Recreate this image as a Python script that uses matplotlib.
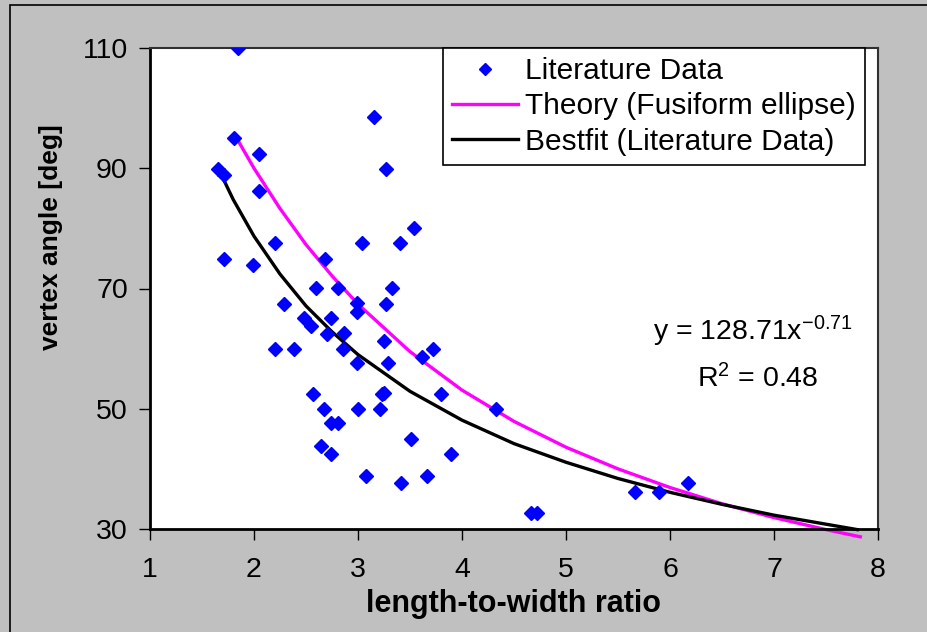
import matplotlib

matplotlib.use("Agg")
import matplotlib.pyplot as plt
from matplotlib.patches import Rectangle

plt.rcParams["font.family"] = ["Liberation Sans", "DejaVu Sans"]
plt.rcParams["mathtext.fontset"] = "custom"
plt.rcParams["mathtext.rm"] = "Liberation Sans"
plt.rcParams["mathtext.it"] = "Liberation Sans"

# Literature data (length-to-width ratio, vertex angle in deg)
lit_ratio = [1.85, 1.81, 2.05, 1.65, 1.71, 2.05, 3.15, 3.27, 3.54, 2.20,
             3.04, 3.40, 1.71, 1.99, 2.68, 2.60, 2.81, 3.33, 2.29, 2.99,
             3.27, 2.99, 2.48, 2.55, 2.74, 2.70, 2.87, 2.20, 2.38, 2.86,
             2.99, 3.25, 3.29, 3.62, 3.72, 2.57, 3.23, 3.25, 3.80, 2.67,
             3.00, 3.21, 4.33, 2.74, 2.81, 3.51, 2.64, 2.74, 3.89, 3.08,
             3.41, 3.66, 4.66, 4.72, 5.66, 5.89, 6.17]
lit_angle = [110.0, 95.0, 92.4, 89.9, 88.9, 86.2, 98.5, 89.9, 80.1, 77.6,
             77.6, 77.6, 74.9, 73.9, 74.9, 70.1, 70.1, 70.1, 67.4, 67.6,
             67.4, 66.1, 65.1, 63.8, 65.1, 62.4, 62.6, 59.9, 59.9, 59.9,
             57.6, 61.3, 57.6, 58.6, 59.9, 52.4, 52.4, 52.6, 52.4, 50.0,
             50.0, 50.0, 50.0, 47.6, 47.6, 45.0, 43.8, 42.5, 42.5, 38.8,
             37.6, 38.8, 32.7, 32.7, 36.2, 36.2, 37.6]

# Theory curve (fusiform ellipse)
theory_ratio = [1.84, 2.0, 2.25, 2.5, 2.75, 3.0, 3.5, 4.0, 4.5, 5.0,
                5.5, 6.0, 6.5, 7.0, 7.5, 7.83]
theory_angle = [94.8, 90.0, 83.3, 77.3, 72.1, 67.4, 59.5, 53.1, 47.9, 43.6,
                40.0, 36.9, 34.2, 31.9, 29.9, 28.7]

# Power-law best fit through the literature data
fit_ratio = [1.65, 1.8, 2.0, 2.25, 2.5, 2.75, 3.0, 3.5, 4.0, 4.5,
             5.0, 5.5, 6.0, 6.5, 7.0, 7.5, 7.8]
fit_angle = [90.2, 84.8, 78.7, 72.4, 67.1, 62.8, 59.0, 52.9, 48.1, 44.2,
             41.1, 38.4, 36.1, 34.1, 32.3, 30.8, 29.9]

x_ticks = [1, 2, 3, 4, 5, 6, 7, 8]
y_ticks = [30, 50, 70, 90, 110]

fig = plt.figure(figsize=(9.28, 6.32), dpi=100, facecolor="#c0c0c0")
ax = fig.add_axes([150 / 928, 1 - 529 / 632, 728 / 928, 481 / 632])
ax.set_facecolor("white")

# outer chart border (runs off the right and bottom edges)
fig.patches.append(Rectangle((10 / 928, -0.1), 2.0, 1.1 - 5 / 632, transform=fig.transFigure,
                             fill=False, edgecolor="black", linewidth=1.2))

ax.plot(lit_ratio, lit_angle, linestyle="none", marker="D", markersize=7.5,
        color="#0000ff", label="Literature Data", zorder=3)
ax.plot(theory_ratio, theory_angle, color="#ff00ff", linewidth=2.4,
        label="Theory (Fusiform ellipse)", clip_on=False, zorder=2)
ax.plot(fit_ratio, fit_angle, color="black", linewidth=2.4,
        label="Bestfit (Literature Data)", clip_on=False, zorder=2)

ax.set_xlim(1, 8)
ax.set_ylim(30, 110)
ax.set_xticks(x_ticks)
ax.set_yticks(y_ticks)
ax.tick_params(axis="both", direction="out", length=8, width=1, labelsize=20.5)
ax.tick_params(axis="x", pad=12)
ax.tick_params(axis="y", pad=8)

for side in ("left", "bottom"):
    ax.spines[side].set_linewidth(2)
for side in ("top", "right"):
    ax.spines[side].set_linewidth(1.5)
    ax.spines[side].set_color("#303030")

ax.set_xlabel("length-to-width ratio", fontsize=22, fontweight="bold")
ax.xaxis.set_label_coords(0.5, -0.125)
ax.set_ylabel("vertex angle [deg]", fontsize=19, fontweight="bold")
ax.yaxis.set_label_coords(-0.12, 0.607)

ax.text(6.80, 61.4, r"y = 128.71x$^{\mathregular{-0.71}}$", fontsize=20.5,
        ha="center", va="baseline")
ax.text(6.84, 53.6, r"R$^{\mathregular{2}}$ = 0.48", fontsize=20.5,
        ha="center", va="baseline")

leg = ax.legend(loc="upper left", bbox_to_anchor=(443 / 928, 1 - 48 / 632),
                bbox_transform=fig.transFigure, fontsize=21.5, frameon=True,
                fancybox=False, borderpad=0.3, labelspacing=0.25,
                handlelength=2.2, handletextpad=0.25, borderaxespad=0,
                markerscale=0.8)
leg.get_frame().set_edgecolor("black")
leg.get_frame().set_linewidth(1.2)
leg.get_frame().set_alpha(1)

fig.savefig("out.png", dpi=100, facecolor=fig.get_facecolor())
